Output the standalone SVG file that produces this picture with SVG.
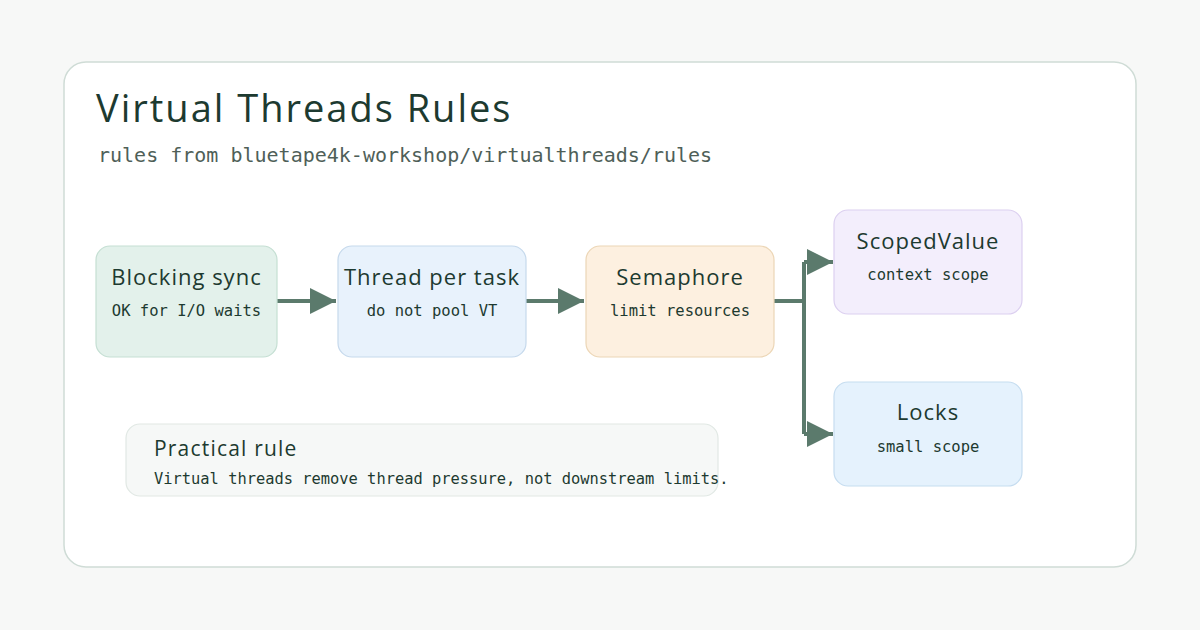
<svg xmlns="http://www.w3.org/2000/svg" width="1200" height="630" viewBox="0 0 1200 630">
<defs>
<style>
.hand{font-family:"Open Sans","Noto Sans",sans-serif;fill:#1d3a30}
.mono{font-family:"DejaVu Sans Mono","Liberation Mono",monospace;fill:#1d3a30}
.ttl{font-size:22px;letter-spacing:1px;text-anchor:middle}
.sub{font-size:15.5px;text-anchor:middle}
.node{stroke-width:1.2}
.conn{stroke:#5b7a6c;stroke-width:4;fill:none}
</style>
<marker id="arr" viewBox="0 0 10 10" refX="10" refY="5" markerWidth="7" markerHeight="6.5" markerUnits="strokeWidth" orient="auto">
<path d="M0,0 L10,5 L0,10 Z" fill="#5b7a6c"/>
</marker>
</defs>
<rect width="1200" height="630" fill="#f7f8f7"/>
<rect x="64" y="62" width="1072" height="505" rx="22" fill="#ffffff" stroke="#cfdcd6" stroke-width="1.5"/>
<text class="hand" x="96" y="122" font-size="38" letter-spacing="2">Virtual Threads Rules</text>
<text class="mono" x="98" y="162" font-size="20" style="fill:#4f5f58">rules from bluetape4k-workshop/virtualthreads/rules</text>

<g id="connectors">
<path class="conn" d="M277,301 H336" marker-end="url(#arr)"/>
<path class="conn" d="M526,301 H584" marker-end="url(#arr)"/>
<path class="conn" d="M774,301 H804"/>
<path class="conn" d="M804,262 V434"/>
<path class="conn" d="M804,262 H833" marker-end="url(#arr)"/>
<path class="conn" d="M804,434 H833" marker-end="url(#arr)"/>
</g>

<g id="n-blocking">
<rect class="node" x="96" y="246" width="181" height="111" rx="14" fill="#e3f1eb" stroke="#c5dfd3"/>
<text class="hand ttl" x="186.5" y="285">Blocking sync</text>
<text class="mono sub" x="186.5" y="316">OK for I/O waits</text>
</g>
<g id="n-thread">
<rect class="node" x="338" y="246" width="188" height="111" rx="14" fill="#e8f2fc" stroke="#c6d9ec"/>
<text class="hand ttl" x="432" y="285">Thread per task</text>
<text class="mono sub" x="432" y="316">do not pool VT</text>
</g>
<g id="n-semaphore">
<rect class="node" x="586" y="246" width="188" height="111" rx="14" fill="#fdf0e0" stroke="#ecd6b6"/>
<text class="hand ttl" x="680" y="285">Semaphore</text>
<text class="mono sub" x="680" y="316">limit resources</text>
</g>
<g id="n-scoped">
<rect class="node" x="834" y="210" width="188" height="104" rx="14" fill="#f3eefc" stroke="#dcd0f0"/>
<text class="hand ttl" x="928" y="249">ScopedValue</text>
<text class="mono sub" x="928" y="280">context scope</text>
</g>
<g id="n-locks">
<rect class="node" x="834" y="382" width="188" height="104" rx="14" fill="#e5f2fd" stroke="#c6ddf0"/>
<text class="hand ttl" x="928" y="420">Locks</text>
<text class="mono sub" x="928" y="452">small scope</text>
</g>
<g id="n-practical">
<rect class="node" x="126" y="424" width="592" height="72" rx="14" fill="#f6f8f7" stroke="#e1e8e4"/>
<text class="hand" x="154" y="456" font-size="21" letter-spacing="1.2">Practical rule</text>
<text class="mono" x="154" y="484" font-size="15.4">Virtual threads remove thread pressure, not downstream limits.</text>
</g>
</svg>
